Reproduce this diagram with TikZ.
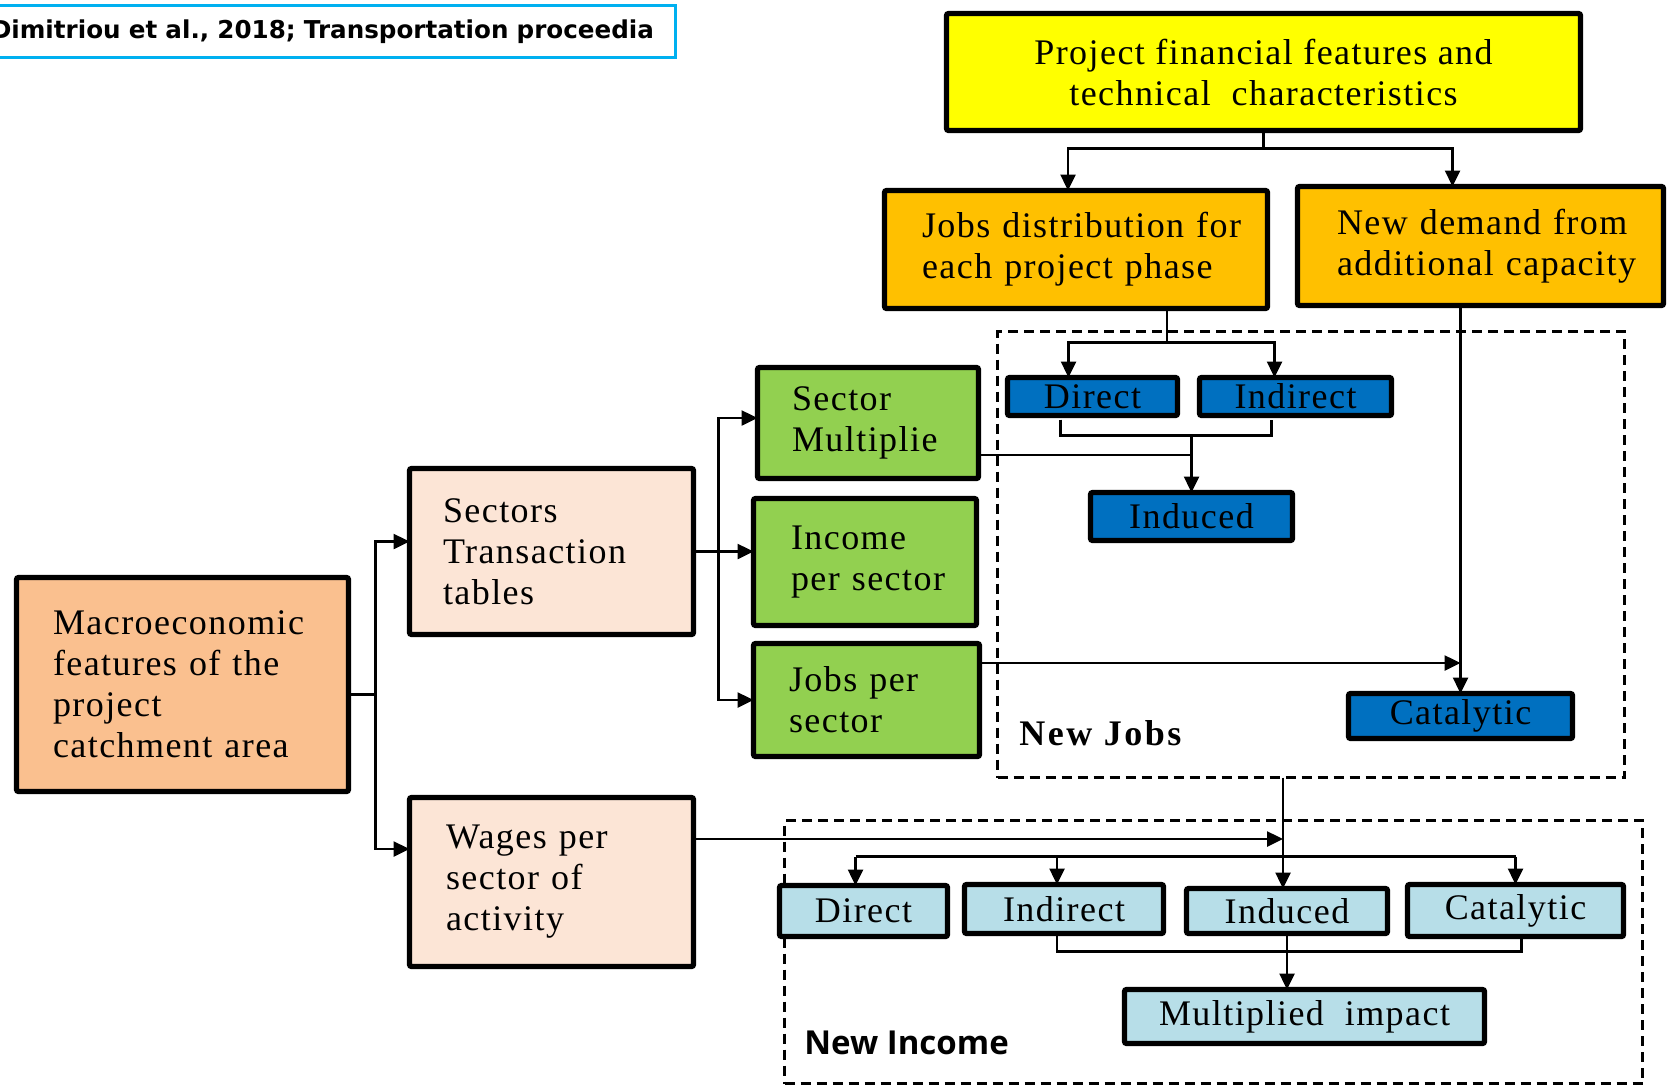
\documentclass[tikz,border=0pt]{standalone}
\usepackage{fontspec}
\setmainfont{Liberation Serif}
\newfontfamily\boxfont[LetterSpace=4]{Liberation Serif}
\newfontfamily\regionfont[LetterSpace=7]{Liberation Serif}
\newfontfamily\incomefont{Open Sans}
\newfontfamily\citefont{DejaVu Sans}
\usetikzlibrary{arrows.meta,calc}

\definecolor{citeblue}{HTML}{00B0F0}
\definecolor{ylw}{HTML}{FFFF00}
\definecolor{amber}{HTML}{FFC000}
\definecolor{peach}{HTML}{FAC08F}
\definecolor{blush}{HTML}{FCE5D6}
\definecolor{leaf}{HTML}{92D050}
\definecolor{deepblue}{HTML}{0070C0}
\definecolor{paleblue}{HTML}{B7DEE8}

% one line of left-aligned box text that never breaks
\newcommand\lline[1]{\makebox[0pt][l]{#1}}
% box by its outer corners: style, name, x1, y1, x2, y2, text
\newcommand\bx[7]{%
  \node[#1, minimum width={(#5-(#3)-5)*0.5pt}, minimum height={(#6-(#4)-5)*0.5pt}]
    (#2) at ({(#3+#5)/2},{(#4+#6)/2}) {#7};}

\tikzset{
  box/.style={draw=black, line width=2.6pt, rounded corners=1pt, inner sep=0pt,
    outer sep=0pt, align=center, font={\boxfont\fontsize{18}{20.5}\selectfont}},
  yelbox/.style={box, fill=ylw},
  orbox/.style={box, fill=amber, align=left},
  mbox/.style={box, fill=peach, align=left},
  pbox/.style={box, fill=blush, align=left},
  gbox/.style={box, fill=leaf, align=left},
  dblue/.style={box, fill=deepblue},
  lblue/.style={box, fill=paleblue},
  region/.style={draw=black, line width=1.5pt, dash pattern=on 5pt off 3pt,
    inner sep=0pt, outer sep=0pt},
  citebox/.style={draw=citeblue, line width=1.1pt, inner sep=0pt, outer sep=0pt,
    align=left, text width=338pt, font={\citefont\bfseries\fontsize{12.3}{14}\selectfont}},
  conn/.style={draw=black, line width=1.25pt},
  arr/.style={conn, -{Triangle[length=8pt,width=7.5pt]}},
}

\begin{document}
\begin{tikzpicture}[x=0.5pt,y=-0.5pt]
\path[use as bounding box] (0,0) rectangle (1669,1088);
\clip (0,0) rectangle (1669,1088);

% reference note
\bx{citebox}{cite}{-20}{3}{678}{60}{\lline{Dimitriou et al., 2018; Transportation proceedia}}

% dashed regions
\bx{region}{jobsreg}{995}{329}{1627}{780}{}
\bx{region}{increg}{782}{818}{1645}{1086}{}
\node[anchor=west, inner sep=0pt, font={\regionfont\bfseries\fontsize{18}{20}\selectfont}]
  (jobslbl) at (1019,733) {New Jobs};
\node[anchor=west, inner sep=0pt, font={\incomefont\bfseries\fontsize{16.5}{18}\selectfont}]
  (inclbl) at (804,1043) {New Income};

% project side
\bx{yelbox}{yel}{944}{11}{1583}{133}{Project financial features and\\technical\ \ characteristics}
\bx{orbox, text width=154pt}{job}{882}{188}{1270}{311}{\lline{Jobs distribution for}\\\lline{each project phase}}
\bx{orbox, text width=143.5pt}{dem}{1295}{184}{1666}{308}{\lline{New demand from}\\\lline{additional capacity}}

% new jobs
\bx{dblue}{ddir}{1005}{375}{1180}{418}{Direct}
\bx{dblue}{dind}{1197}{375}{1394}{418}{Indirect}
\bx{dblue}{dinduced}{1088}{490}{1295}{543}{Induced}
\bx{dblue}{dcat}{1346}{691}{1575}{741}{Catalytic}

% macroeconomic side
\bx{mbox, text width=129.5pt}{mac}{14}{575}{351}{794}{\lline{Macroeconomic}\\\lline{features of the}\\\lline{project}\\\lline{catchment area}}
\bx{pbox, text width=108.5pt}{sec}{407}{466}{696}{637}{\lline{Sectors}\\\lline{Transaction}\\\lline{tables}}
\bx{pbox, text width=105.5pt}{wag}{407}{795}{696}{969}{\lline{Wages per}\\\lline{sector of}\\\lline{activity}}
\bx{gbox, text width=76pt}{smul}{755}{365}{981}{481}{\lline{Sector}\\\lline{Multiplie}}
\bx{gbox, text width=74pt}{inc}{751}{496}{979}{628}{\lline{Income}\\\lline{per sector}}
\bx{gbox, text width=77.5pt}{jps}{751}{641}{982}{759}{\lline{Jobs per}\\\lline{sector}}

% new income
\bx{lblue}{ldir}{777}{883}{950}{939}{Direct}
\bx{lblue}{lindir}{962}{882}{1166}{936}{Indirect}
\bx{lblue}{lind}{1184}{886}{1390}{936}{Induced}
\bx{lblue}{lcat}{1405}{882}{1626}{939}{Catalytic}
\bx{lblue}{multi}{1122}{987}{1487}{1046}{Multiplied\ \ impact}

% project features split into the two orange boxes
\draw[conn] (yel.south) -- ++(0,18) coordinate (ysplit);
\draw[arr] (ysplit) -| ($(job.north)+(-8,0)$);
\draw[arr] (ysplit) -| ($(dem.north)+(-28,0)$);

% jobs distribution into direct / indirect
\draw[conn] ($(job.south)+(91,0)$) -- ++(0,34) coordinate (jsplit);
\draw[arr] (jsplit) -| ($(ddir.north)+(-24,0)$);
\draw[arr] (jsplit) -| ($(dind.north)+(-21,0)$);

% direct + indirect + multiplier give induced
\coordinate (bdl) at ($(ddir.south)+(-32,4)$);
\coordinate (bdr) at ($(dind.south)+(-24,4)$);
\draw[conn] (bdl) -- ++(0,16) -| (bdr);
\coordinate (bbot) at ($(bdl)+(0,16)$);
\draw[arr] (bbot -| dinduced.north) -- (dinduced.north);
\coordinate (sm) at ($(smul.east)+(0,32)$);
\draw[conn] (sm) -- (sm -| dinduced.north);

% catalytic jobs
\draw[arr] (dem.south -| dcat.north) -- (dcat.north);
\coordinate (jp) at ($(jps.east)+(0,-37)$);
\draw[arr] (jp) -- (jp -| dcat.north);

% macroeconomic features into tables and wages
\coordinate (mo) at ($(mac.east)+(0,10)$);
\draw[conn] (mo) -- ++(27,0) coordinate (mv);
\draw[arr] (mv) |- ($(sec.west)+(0,-10)$);
\draw[arr] (mv) |- ($(wag.west)+(0,-33)$);

% transaction tables into the sector figures
\draw[arr] (sec.east) -- (sec.east -| inc.west);
\coordinate (gv) at ($(sec.east)+(25,0)$);
\draw[arr] (gv) |- ($(smul.west)+(0,-5)$);
\draw[arr] (gv) |- (jps.west);

% new jobs and wages into new income
\coordinate (jv) at ($(jobsreg.south)+(-28,0)$);
\coordinate (wo) at ($(wag.east)+(0,-43)$);
\draw[arr] (wo) -- (wo -| jv);
\draw[arr] (jv) -- (jv |- lind.north);

% distribution over the income boxes
\coordinate (dl) at ($(ldir.north)+(-8,-29)$);
\coordinate (dr) at (dl -| lcat.north);
\coordinate (di) at ($(lindir.north)+(-7,0)$);
\draw[conn] (dl) -- (dr);
\draw[arr] (dl) -- (dl |- ldir.north);
\draw[arr] (dl -| di) -- (di);
\draw[arr] (dr) -- (lcat.north);

% indirect + induced + catalytic give the multiplied impact
\coordinate (bil) at ($(lindir.south)+(-7,0)$);
\coordinate (bir) at ($(lcat.south)+(6,0)$);
\draw[conn] (bil) -- ++(0,18) -| (bir);
\draw[arr] (lind.south) -- (lind.south |- multi.north);
\end{tikzpicture}
\end{document}
